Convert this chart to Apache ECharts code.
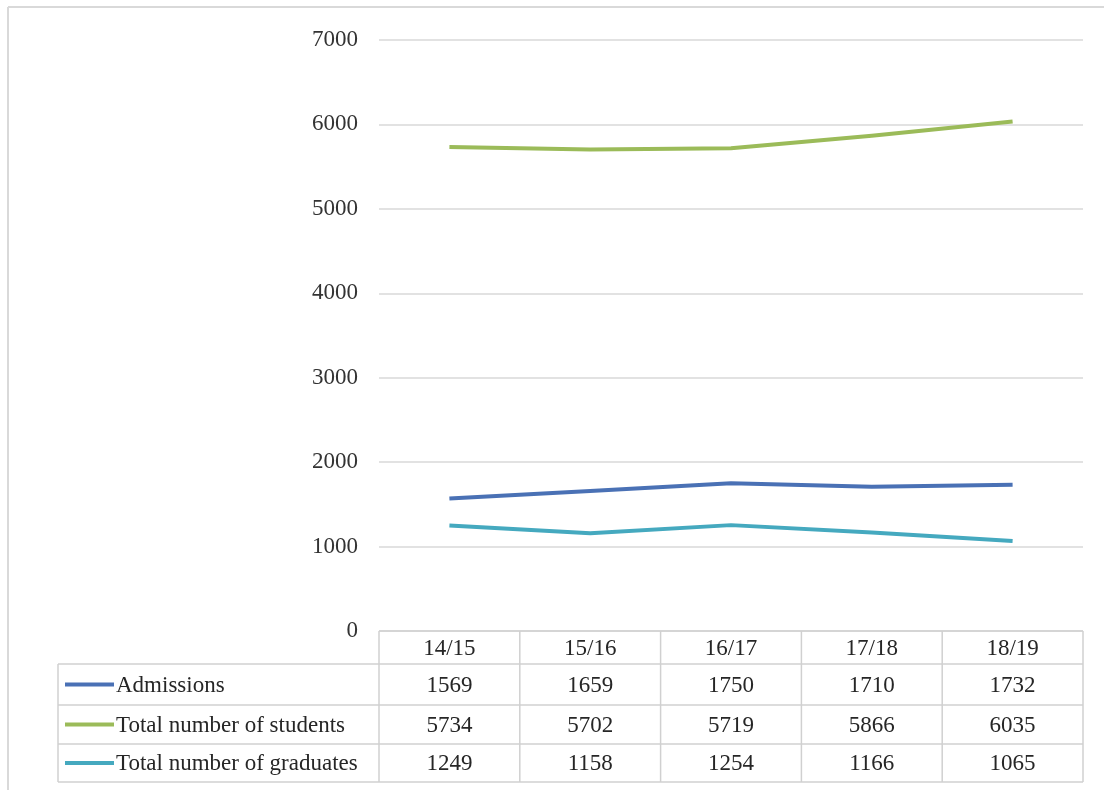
<!DOCTYPE html>
<html>
<head>
<meta charset="utf-8">
<script src="https://cdn.jsdelivr.net/npm/echarts@6/dist/echarts.min.js"></script>
<style>
  html, body { margin: 0; padding: 0; background: #ffffff; }
  #chart { width: 1104px; height: 790px; }
</style>
</head>
<body>
<div id="chart"></div>
<script>
// Academic years shown along the horizontal axis and in the table header
const years = ['14/15', '15/16', '16/17', '17/18', '18/19'];

// Series values per academic year
const admissions = [1569, 1659, 1750, 1710, 1732];
const totalStudents = [5734, 5702, 5719, 5866, 6035];
const totalGraduates = [1249, 1158, 1254, 1166, 1065];

const seriesNames = ['Admissions', 'Total number of students', 'Total number of graduates'];
const seriesColors = ['#4a71b5', '#9bbb59', '#45a9bf'];
const seriesValues = [admissions, totalStudents, totalGraduates];

// Value axis ticks
const yMin = 0, yMax = 7000, yStep = 1000;

const FONT = '"Liberation Serif", "Times New Roman", serif';
const FONT_SIZE = 23;
const GRID = { left: 379, right: 21, top: 40, bottom: 159 };

const chart = echarts.init(document.getElementById('chart'), null, { renderer: 'canvas' });

chart.setOption({
  backgroundColor: '#ffffff',
  animation: false,
  grid: GRID,
  xAxis: {
    type: 'category',
    data: years,
    boundaryGap: true,
    axisLine: { show: false },
    axisTick: { show: false },
    axisLabel: { show: false },
    splitLine: { show: false }
  },
  yAxis: {
    type: 'value',
    min: yMin, max: yMax, interval: yStep,
    axisLine: { show: false },
    axisTick: { show: false },
    axisLabel: {
      fontFamily: FONT, fontSize: FONT_SIZE, color: '#333333', margin: 21,
      formatter: v => String(v)
    },
    splitLine: { lineStyle: { color: '#d9d9d9', width: 1.5 } }
  },
  series: seriesNames.map((name, i) => ({
    name,
    type: 'line',
    data: seriesValues[i],
    symbol: 'none',
    smooth: false,
    lineStyle: { color: seriesColors[i], width: 4, join: 'round' }
  }))
});

// Data table under the plot, laid out against the category axis
function buildTable() {
  const plotLeft = GRID.left;
  const plotRight = 1104 - GRID.right;
  const colW = (plotRight - plotLeft) / years.length;
  const tableTop = 790 - GRID.bottom;
  const rowYs = [tableTop, 664, 705, 744, 782];
  const legendLeft = 58;
  const lineColor = '#d0d0d0';
  const els = [];

  const hline = (x1, x2, y) => els.push({
    type: 'line', shape: { x1, y1: y, x2, y2: y },
    style: { stroke: lineColor, lineWidth: 1.5 }, silent: true
  });
  const vline = (x, y1, y2) => els.push({
    type: 'line', shape: { x1: x, y1, x2: x, y2 },
    style: { stroke: lineColor, lineWidth: 1.5 }, silent: true
  });

  // outer frame of the chart area
  els.push({ type: 'line', shape: { x1: 8, y1: 7, x2: 1104, y2: 7 }, style: { stroke: '#d9d9d9', lineWidth: 2 }, silent: true });
  els.push({ type: 'line', shape: { x1: 8, y1: 7, x2: 8, y2: 790 }, style: { stroke: '#d9d9d9', lineWidth: 2 }, silent: true });

  hline(plotLeft, plotRight, rowYs[0]);
  for (let r = 1; r < rowYs.length; r++) hline(legendLeft, plotRight, rowYs[r]);
  vline(legendLeft, rowYs[1], rowYs[4]);
  for (let c = 0; c <= years.length; c++) vline(plotLeft + c * colW, rowYs[0], rowYs[4]);

  const cellText = (x, y, text, align) => els.push({
    type: 'text', x, y, silent: true,
    style: {
      text, fill: '#262626', font: FONT_SIZE + 'px ' + FONT,
      align: align || 'center', verticalAlign: 'middle'
    }
  });

  // header row: academic years
  years.forEach((yr) => {
    const cx = chart.convertToPixel({ xAxisIndex: 0 }, yr);
    cellText(cx, (rowYs[0] + rowYs[1]) / 2 + 1, yr);
  });

  // one row per series: legend key + values
  seriesNames.forEach((name, r) => {
    const cy = (rowYs[r + 1] + rowYs[r + 2]) / 2 + 1;
    els.push({
      type: 'line', shape: { x1: 65, y1: cy - 1, x2: 114, y2: cy - 1 },
      style: { stroke: seriesColors[r], lineWidth: 4 }, silent: true
    });
    cellText(116, cy, name, 'left');
    seriesValues[r].forEach((v, c) => {
      const cx = chart.convertToPixel({ xAxisIndex: 0 }, years[c]);
      cellText(cx, cy, String(v));
    });
  });

  chart.setOption({ graphic: { elements: els } });
}

buildTable();
</script>
</body>
</html>
